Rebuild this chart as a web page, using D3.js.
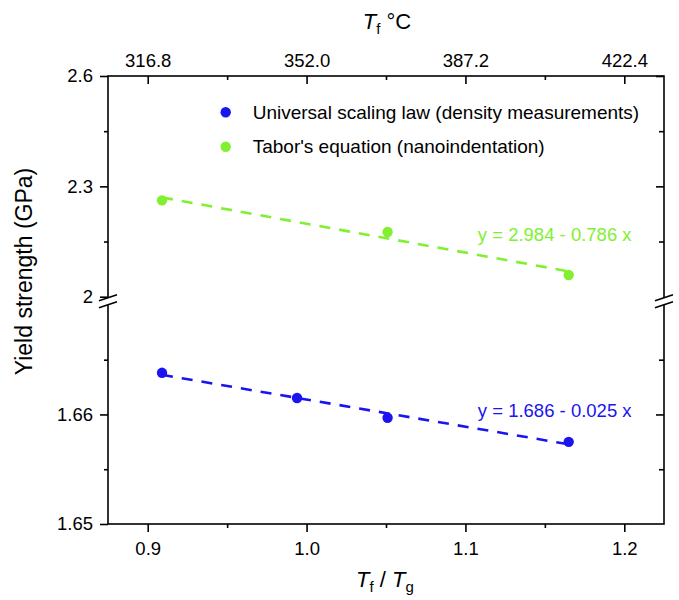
<!DOCTYPE html>
<html>
<head>
<meta charset="utf-8">
<script src="https://cdn.jsdelivr.net/npm/d3@7"></script>
<style>
  body { margin: 0; background: #fff; }
  svg { font-family: "Liberation Sans", Arial, sans-serif; }
  .axis path { display: none; }
  .axis line { stroke: #000; stroke-width: 1.6; }
  .axis text { font-size: 18.5px; fill: #000; font-family: "Liberation Sans", Arial, sans-serif; }
</style>
</head>
<body>
<svg id="chart" width="679" height="600"></svg>
<script>
// data
var ratioBlue = [0.909, 0.994, 1.051, 1.165];
var strengthBlue = [1.6638, 1.6615, 1.6597, 1.6575];
var ratioGreen = [0.909, 1.051, 1.165];
var strengthGreen = [2.262, 2.176, 2.059];
var seriesNames = ["Universal scaling law (density measurements)", "Tabor's equation (nanoindentation)"];
var fitLabels = ["y = 1.686 - 0.025 x", "y = 2.984 - 0.786 x"];
var xTicks = [0.9, 1.0, 1.1, 1.2];
var xMinor = [0.95, 1.05, 1.15];
var topTickLabels = ["316.8", "352.0", "387.2", "422.4"];
var yTicksHigh = [2, 2.3, 2.6];
var yMinorHigh = [2.15, 2.45];
var yTicksLow = [1.65, 1.66];
var yMinorLow = [1.655, 1.665];

var blue = "#1a14f0", green = "#80f030";

var margin = {top: 76, left: 108},
    width = 556,
    height = 448;

var svg = d3.select("#chart");
var g = svg.append("g")
    .attr("transform", "translate(" + margin.left + "," + margin.top + ")");

var x = d3.scaleLinear().domain([0.875, 1.225]).range([0, width]);
// broken y axis: two segments
var yHigh = d3.scaleLinear().domain([2.0, 2.6]).range([220.7, 0]);
var yLow = d3.scaleLinear().domain([1.65, 1.67]).range([height, 228.9]);

// least squares fit for the dashed lines
function fit(xs, ys) {
    var mx = d3.mean(xs), my = d3.mean(ys), sxy = 0, sxx = 0;
    xs.forEach(function(v, i) { sxy += (v - mx) * (ys[i] - my); sxx += (v - mx) * (v - mx); });
    var b = sxy / sxx;
    return {a: my - b * mx, b: b};
}

// axes
g.append("g").attr("class", "axis")
    .attr("transform", "translate(0," + height + ")")
    .call(d3.axisBottom(x).tickValues(xTicks).tickSize(8).tickPadding(10).tickFormat(d3.format(".1f")));
g.append("g").attr("class", "axis")
    .attr("transform", "translate(0," + height + ")")
    .call(d3.axisBottom(x).tickValues(xMinor).tickSize(4).tickFormat(""));

g.append("g").attr("class", "axis")
    .call(d3.axisTop(x).tickValues(xTicks).tickSize(-8).tickPadding(9)
        .tickFormat(function(d, i) { return topTickLabels[i]; }));
g.append("g").attr("class", "axis")
    .call(d3.axisTop(x).tickValues(xMinor).tickSize(-4).tickFormat(""));

g.append("g").attr("class", "axis")
    .call(d3.axisLeft(yHigh).tickValues(yTicksHigh).tickSize(8).tickPadding(7).tickFormat(function(d) { return d === 2 ? "2" : d3.format(".1f")(d); }));
g.append("g").attr("class", "axis")
    .call(d3.axisLeft(yHigh).tickValues(yMinorHigh).tickSize(4).tickFormat(""));
g.append("g").attr("class", "axis")
    .call(d3.axisLeft(yLow).tickValues(yTicksLow).tickSize(8).tickPadding(7).tickFormat(d3.format(".2f")));
g.append("g").attr("class", "axis")
    .call(d3.axisLeft(yLow).tickValues(yMinorLow).tickSize(4).tickFormat(""));

g.append("g").attr("class", "axis")
    .attr("transform", "translate(" + width + ",0)")
    .call(d3.axisRight(yHigh).tickValues(yTicksHigh.slice(1)).tickSize(-8).tickFormat(""));
g.append("g").attr("class", "axis")
    .attr("transform", "translate(" + width + ",0)")
    .call(d3.axisRight(yHigh).tickValues(yMinorHigh).tickSize(-5).tickFormat(""));
g.append("g").attr("class", "axis")
    .attr("transform", "translate(" + width + ",0)")
    .call(d3.axisRight(yLow).tickValues(yTicksLow.slice(1)).tickSize(-8).tickFormat(""));
g.append("g").attr("class", "axis")
    .attr("transform", "translate(" + width + ",0)")
    .call(d3.axisRight(yLow).tickValues(yMinorLow).tickSize(-5).tickFormat(""));

// frame
g.append("rect")
    .attr("width", width).attr("height", height)
    .attr("fill", "none").attr("stroke", "#000").attr("stroke-width", 1.6);

// break marks on both sides
var breakMid = (yHigh(2.0) + yLow(1.67)) / 2;
[0, width].forEach(function(bx) {
    var b = g.append("g").attr("transform", "translate(" + bx + "," + breakMid + ")");
    b.append("polygon")
        .attr("points", "-9,0 9,-6 9,1 -9,7")
        .attr("fill", "#fff");
    b.append("line").attr("x1", -9).attr("y1", 0).attr("x2", 9).attr("y2", -6)
        .attr("stroke", "#000").attr("stroke-width", 1.6);
    b.append("line").attr("x1", -9).attr("y1", 7).attr("x2", 9).attr("y2", 1)
        .attr("stroke", "#000").attr("stroke-width", 1.6);
});

// dashed fit lines
var series = [
    {xs: ratioBlue, ys: strengthBlue, y: yLow, color: blue},
    {xs: ratioGreen, ys: strengthGreen, y: yHigh, color: green}
];
series.forEach(function(s) {
    var f = fit(s.xs, s.ys);
    var x0 = d3.min(s.xs), x1 = d3.max(s.xs);
    g.append("line")
        .attr("x1", x(x0)).attr("y1", s.y(f.a + f.b * x0))
        .attr("x2", x(x1)).attr("y2", s.y(f.a + f.b * x1))
        .attr("stroke", s.color).attr("stroke-width", 2.6)
        .attr("stroke-dasharray", "11,9");
    g.selectAll(null)
        .data(s.xs)
        .enter().append("circle")
        .attr("cx", function(d) { return x(d); })
        .attr("cy", function(d, i) { return s.y(s.ys[i]); })
        .attr("r", 5.2)
        .attr("fill", s.color);
});

// fit equations
g.append("text")
    .attr("x", x(1.2046)).attr("y", yLow(1.6604)).attr("dy", "0.35em")
    .attr("text-anchor", "end").attr("font-size", "18.5px").attr("fill", blue)
    .text(fitLabels[0]);
g.append("text")
    .attr("x", x(1.2046)).attr("y", yHigh(2.168)).attr("dy", "0.35em")
    .attr("text-anchor", "end").attr("font-size", "18.5px").attr("fill", green)
    .text(fitLabels[1]);

// legend
var legend = svg.append("g");
[blue, green].forEach(function(c, i) {
    legend.append("circle").attr("cx", 225.7).attr("cy", 112.3 + i * 34.4).attr("r", 5.2).attr("fill", c);
    legend.append("text").attr("x", 252.7).attr("y", 112.3 + i * 34.4).attr("dy", "0.35em")
        .attr("font-size", "19px").attr("fill", "#000")
        .text(seriesNames[i]);
});

// axis titles
svg.append("text")
    .attr("transform", "translate(31.5,271.5) rotate(-90)")
    .attr("text-anchor", "middle").attr("font-size", "23px")
    .text("Yield strength (GPa)");

var xt = svg.append("text")
    .attr("x", 385).attr("y", 587).attr("text-anchor", "middle").attr("font-size", "22px");
xt.append("tspan").attr("font-style", "italic").text("T");
xt.append("tspan").attr("font-size", "15px").attr("dy", 5).text("f");
xt.append("tspan").attr("dy", -5).text(" / ");
xt.append("tspan").attr("font-style", "italic").text("T");
xt.append("tspan").attr("font-size", "15px").attr("dy", 5).text("g");

var tt = svg.append("text")
    .attr("x", 387).attr("y", 29).attr("text-anchor", "middle").attr("font-size", "22px");
tt.append("tspan").attr("font-style", "italic").text("T");
tt.append("tspan").attr("font-size", "15px").attr("dy", 5).text("f");
tt.append("tspan").attr("dy", -5).text(" \u00B0C");
</script>
</body>
</html>
